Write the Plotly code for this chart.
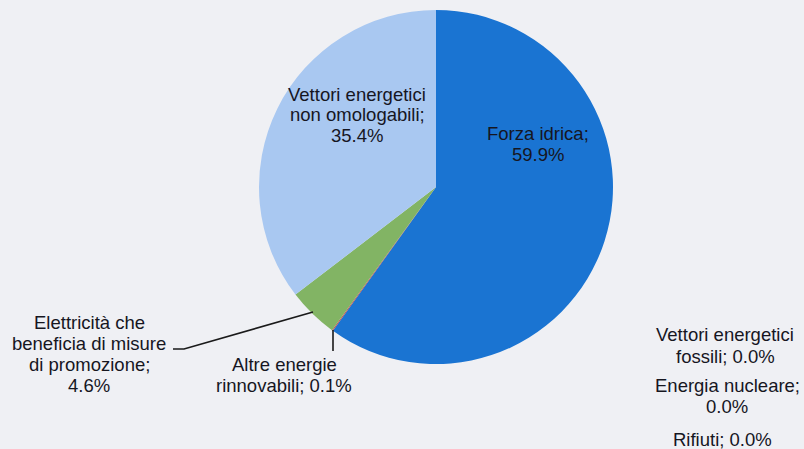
import plotly.graph_objects as go

labels = ["Forza idrica", "Altre energie rinnovabili", "Elettricità che beneficia di misure di promozione",
          "Vettori energetici non omologabili", "Vettori energetici fossili", "Energia nucleare", "Rifiuti"]
values = [59.9, 0.1, 4.6, 35.4, 0.0, 0.0, 0.0]
colors = ["#1a74d2", "#c0504d", "#82b464", "#a9c8f1", "#888888", "#aaaaaa", "#cccccc"]
label_lines = [
    ["Forza idrica;", "{v:.1f}%"],
    ["Altre energie", "rinnovabili; {v:.1f}%"],
    ["Elettricità che", "beneficia di misure", "di promozione;", "{v:.1f}%"],
    ["Vettori energetici", "non omologabili;", "{v:.1f}%"],
    ["Vettori energetici", "fossili; {v:.1f}%"],
    ["Energia nucleare;", "{v:.1f}%"],
    ["Rifiuti; {v:.1f}%"],
]
# label placement (pixels from top-left): centre x, first line centre y, line step - layout only
label_pos = [(538, 133, 21), (284, 364, 21), (89, 322, 21), (357, 94, 20.5),
             (725, 334, 22.5), (727, 385, 21), (722, 439, 21)]

W, H = 804, 449
cx, cy, r = 436, 187, 177
FONT = dict(family="Liberation Sans, Arial, sans-serif", size=18.5, color="#16161f")

fig = go.Figure(go.Pie(
    labels=labels, values=values, sort=False, direction="clockwise", rotation=0,
    marker=dict(colors=colors, line=dict(width=0)),
    textinfo="none", hoverinfo="label+percent", showlegend=False,
    domain=dict(x=[(cx - r) / W, (cx + r) / W], y=[(H - cy - r) / H, (H - cy + r) / H]),
))

def P(px, py):
    return px / W, 1 - py / H

for lines, v, (px, py, step) in zip(label_lines, values, label_pos):
    for i, ln in enumerate(lines):
        x, y = P(px, py + i * step)
        fig.add_annotation(x=x, y=y, xref="paper", yref="paper",
                           text=ln.format(v=v), showarrow=False, align="center",
                           font=FONT, xanchor="center", yanchor="middle")

# leader lines
x0, y0 = P(173, 349); x1, y1 = P(184, 349); x2, y2 = P(313, 312)
fig.add_shape(type="path", xref="paper", yref="paper",
              path=f"M {x0} {y0} L {x1} {y1} L {x2} {y2}", line=dict(color="#1a1a1a", width=1.6))
a0, b0 = P(333, 330); a1, b1 = P(333, 351)
fig.add_shape(type="line", xref="paper", yref="paper", x0=a0, y0=b0, x1=a1, y1=b1,
              line=dict(color="#1a1a1a", width=1.6))

fig.update_layout(width=W, height=H, margin=dict(l=0, r=0, t=0, b=0),
                  paper_bgcolor="#eff0f4", plot_bgcolor="#eff0f4")
fig.write_html("out.html", config={"displayModeBar": False},
               post_script="document.body.style.margin='0';document.body.style.overflow='hidden';document.body.style.background='#eff0f4';")
